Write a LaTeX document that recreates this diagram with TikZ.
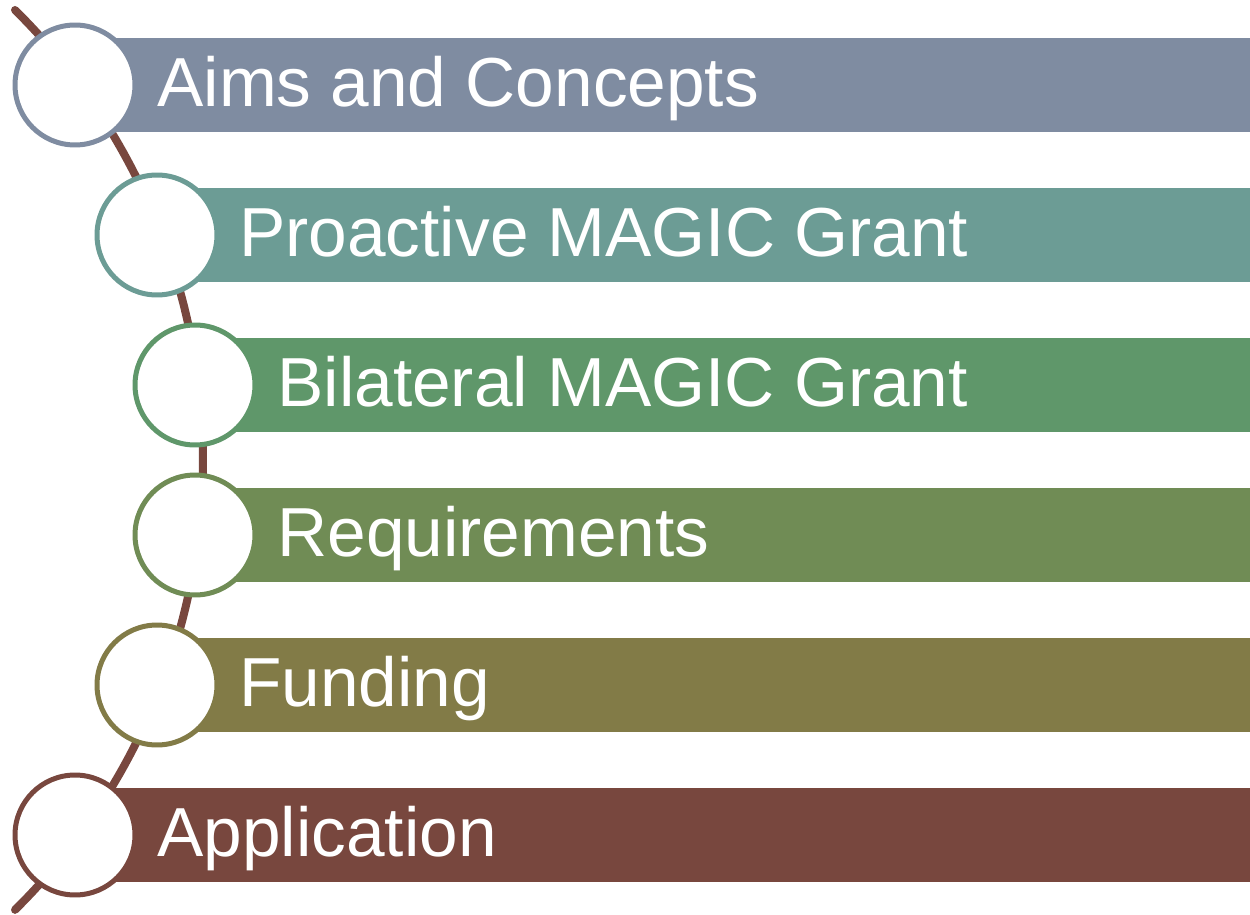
\documentclass[tikz,border=0pt]{standalone}
\usepackage{fontspec}
\setmainfont{Liberation Sans}
\usetikzlibrary{positioning}

\definecolor{aimscol}{HTML}{7F8CA1}
\definecolor{proactcol}{HTML}{6C9C95}
\definecolor{bilatcol}{HTML}{5F976A}
\definecolor{reqcol}{HTML}{708C55}
\definecolor{fundcol}{HTML}{827B47}
\definecolor{applcol}{HTML}{78473E}

\tikzset{
  bar/.style={rectangle, inner sep=0pt, minimum height=1.9cm, anchor=west},
  ring/.style={circle, draw, line width=0.1cm, fill=white, minimum size=2.4cm, inner sep=0pt},
  itemtext/.style={inner sep=0pt, anchor=base west, text=white, font=\fontsize{39.5}{40}\selectfont},
}

\begin{document}
\begin{tikzpicture}[x=0.02cm, y=-0.02cm]
  \useasboundingbox (0,0) rectangle (1250,915);
  % the curved spine
  \coordinate (spinetop) at (15,10);
  \draw[applcol, line width=0.16cm, line cap=round] (spinetop) arc[start angle=45.35, end angle=-45.35, radius=12.652cm];
  % items
  \foreach \cx/\cy/\col/\txt [count=\i] in {
      75/85/aimscol/Aims and Concepts,
      157/235/proactcol/Proactive MAGIC Grant,
      195/385/bilatcol/Bilateral MAGIC Grant,
      195/535/reqcol/Requirements,
      157/685/fundcol/Funding,
      75/835/applcol/Application}{
    \pgfmathsetmacro\w{(1250-\cx)*0.02}
    \node[bar, fill=\col, minimum width=\w cm] (b\i) at (\cx,\cy) {};
    \node[ring, draw=\col] (r\i) at (\cx,\cy) {};
    \node[itemtext] (t\i) at ([xshift=1.64cm, yshift=-0.43cm]r\i.center) {\txt};
  }
\end{tikzpicture}
\end{document}
